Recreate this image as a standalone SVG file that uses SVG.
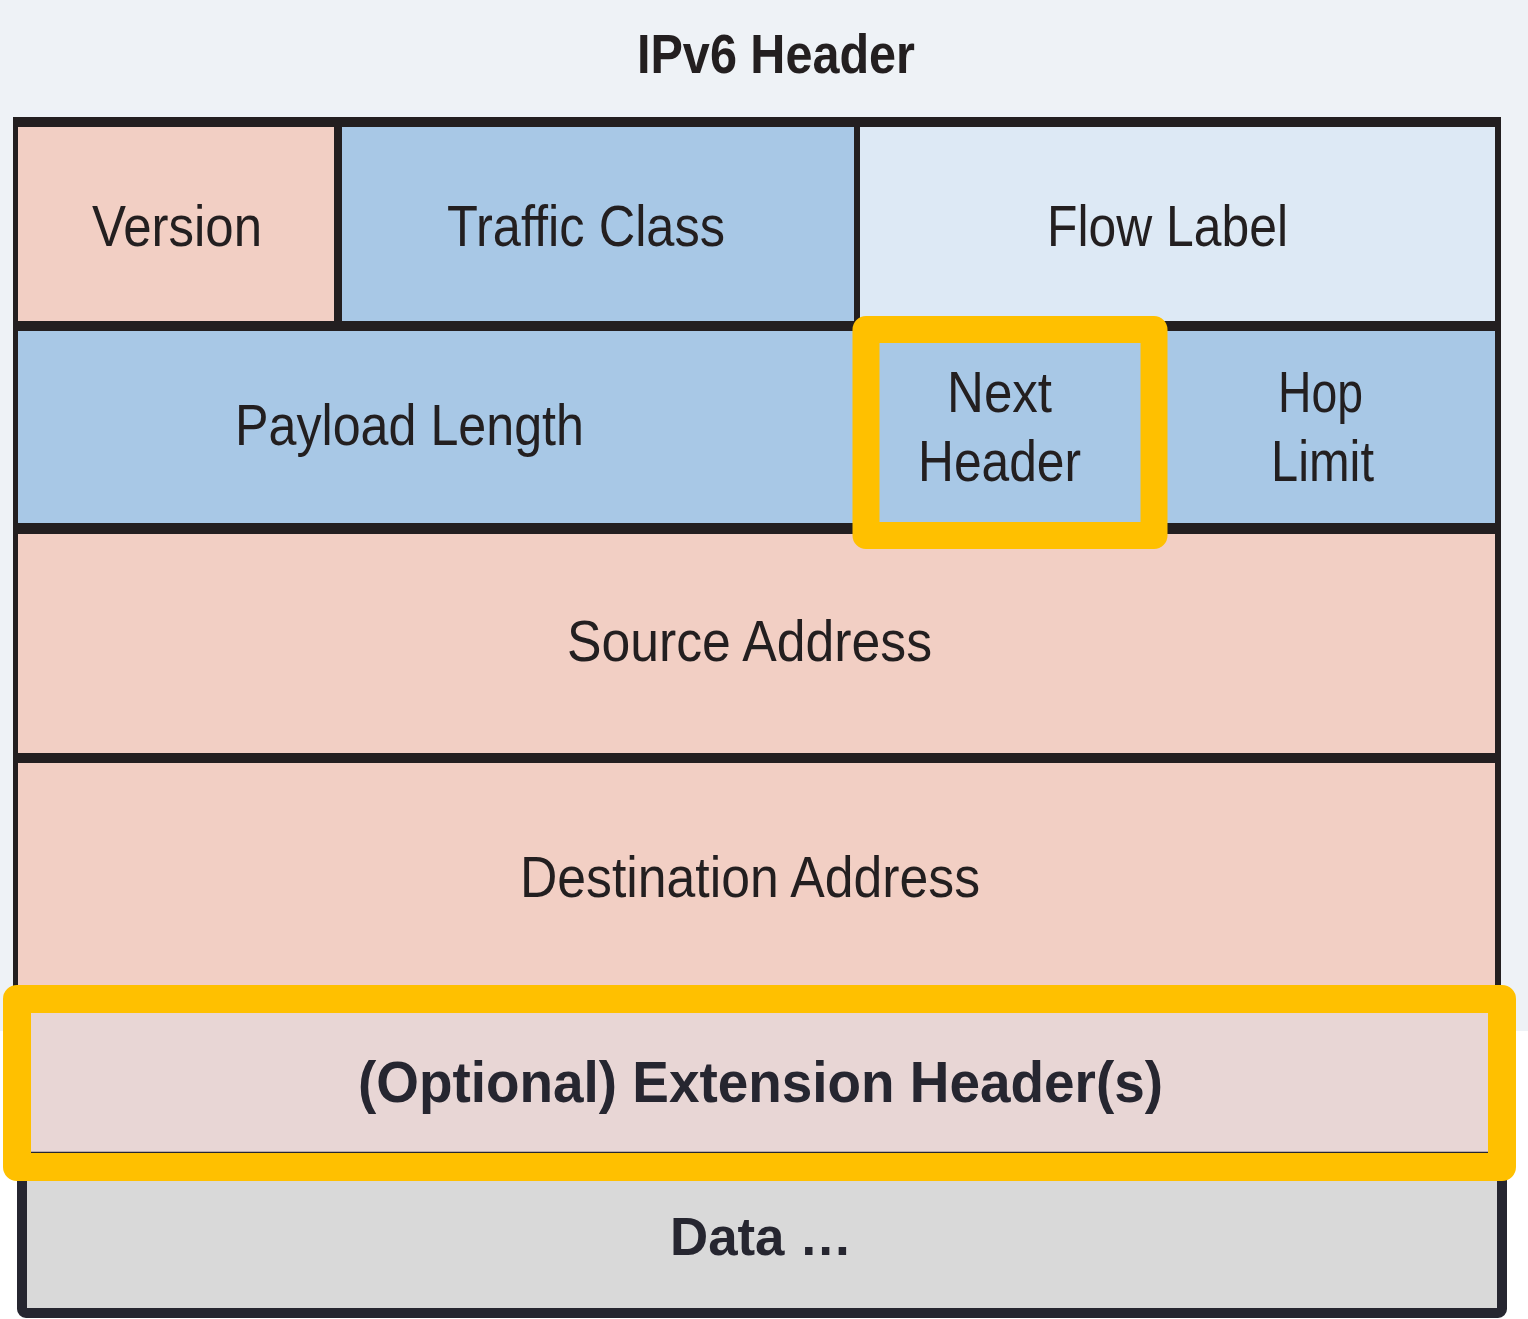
<svg xmlns="http://www.w3.org/2000/svg" width="1528" height="1319" viewBox="0 0 1528 1319">
<style>
.lbl{font-family:"Liberation Sans Narrow","Liberation Sans",Arial,sans-serif;font-size:57px;fill:#231F20;}
.bold{font-family:"Liberation Sans",Arial,sans-serif;font-weight:bold;fill:#262630;}
.pink{fill:#F2CFC4;}
.blue{fill:#A8C8E6;}
.lblue{fill:#DDE9F5;}
.hl{fill:none;stroke:#FFC000;stroke-width:27;stroke-linejoin:round;}
</style>
<rect x="0" y="0" width="1528" height="1319" fill="#FFFFFF"/>
<rect x="0" y="0" width="1528" height="1031" fill="#EEF2F6"/>
<text id="title" class="bold" x="637" y="73" font-size="56" textLength="278" lengthAdjust="spacingAndGlyphs" style="fill:#231F20">IPv6 Header</text>
<rect id="frame" x="13" y="117" width="1488" height="890" fill="#231F20"/>
<g id="version"><rect class="pink" x="18" y="127" width="316" height="194"/><text class="lbl" x="92" y="246" textLength="170" lengthAdjust="spacingAndGlyphs">Version</text></g>
<g id="traffic-class"><rect class="blue" x="342" y="127" width="512" height="194"/><text class="lbl" x="447" y="246" textLength="278" lengthAdjust="spacingAndGlyphs">Traffic Class</text></g>
<g id="flow-label"><rect class="lblue" x="860" y="127" width="635" height="194"/><text class="lbl" x="1047" y="246" textLength="241" lengthAdjust="spacingAndGlyphs">Flow Label</text></g>
<g id="payload-length"><rect class="blue" x="18" y="331" width="836" height="192"/><text class="lbl" x="235" y="445" textLength="349" lengthAdjust="spacingAndGlyphs">Payload Length</text></g>
<g id="next-header"><rect class="blue" x="860" y="331" width="286" height="192"/><text class="lbl" x="947" y="412" textLength="105" lengthAdjust="spacingAndGlyphs">Next</text><text class="lbl" x="918" y="481" textLength="163" lengthAdjust="spacingAndGlyphs">Header</text></g>
<g id="hop-limit"><rect class="blue" x="1152" y="331" width="343" height="192"/><text class="lbl" x="1278" y="412" textLength="85" lengthAdjust="spacingAndGlyphs">Hop</text><text class="lbl" x="1271" y="481" textLength="103" lengthAdjust="spacingAndGlyphs">Limit</text></g>
<g id="source-address"><rect class="pink" x="18" y="534" width="1477" height="219"/><text class="lbl" x="567" y="661" textLength="365" lengthAdjust="spacingAndGlyphs">Source Address</text></g>
<g id="destination-address"><rect class="pink" x="18" y="763" width="1477" height="240"/><text class="lbl" x="520" y="897" textLength="460" lengthAdjust="spacingAndGlyphs">Destination Address</text></g>
<g id="next-header-highlight"><rect class="hl" x="866" y="329.5" width="288" height="206"/></g>
<g id="data"><rect x="22" y="1150" width="1480" height="163" rx="4" fill="#D9D9D9" stroke="#262630" stroke-width="10"/><text class="bold" x="670" y="1255" font-size="54" textLength="182" lengthAdjust="spacingAndGlyphs">Data …</text></g>
<g id="extension-headers"><rect x="17" y="999" width="1485" height="168" fill="#E8D6D5"/><line x1="31" y1="1152.5" x2="1488" y2="1152.5" stroke="#262630" stroke-width="1.5"/><rect class="hl" x="17" y="999" width="1485" height="168" style="stroke-width:28"/><text class="bold" x="358" y="1102" font-size="58" textLength="805" lengthAdjust="spacingAndGlyphs">(Optional) Extension Header(s)</text></g>
<g id="connectors"></g>
</svg>
